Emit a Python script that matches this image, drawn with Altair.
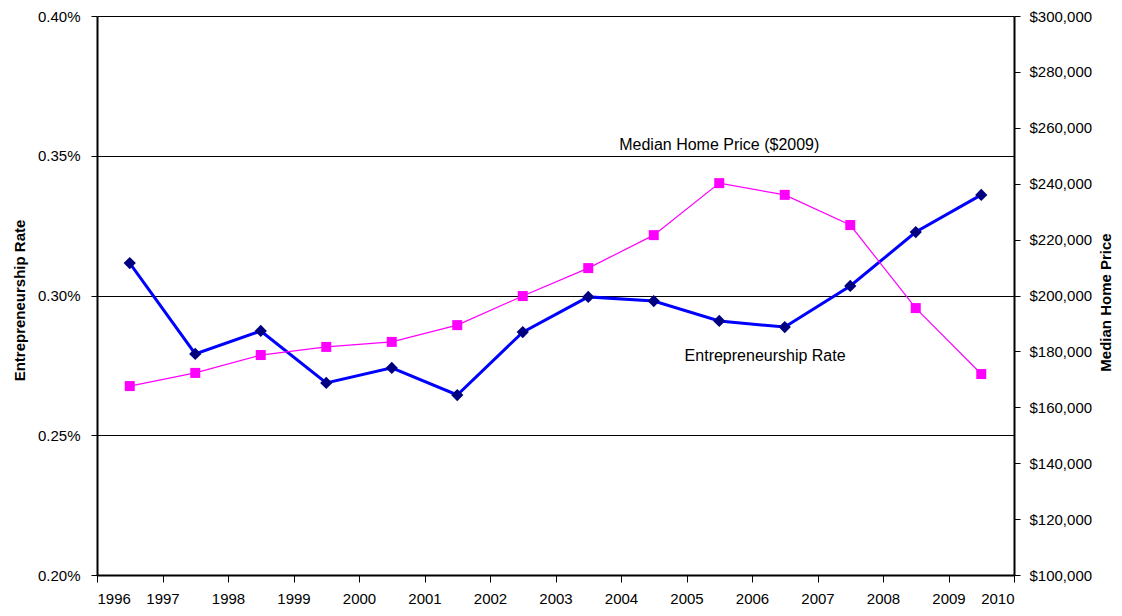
import altair as alt
import pandas as pd

# ---- data ----
years = list(range(1996, 2010))
rate_pct = [0.3116, 0.2791, 0.2873, 0.2687, 0.2741, 0.2644, 0.2869,
            0.2995, 0.2980, 0.2909, 0.2887, 0.3034, 0.3227, 0.3360]
price = [167600, 172300, 178700, 181600, 183400, 189400, 199800,
         209800, 221600, 240200, 236000, 225200, 195500, 171900]

label_text = ["Median Home Price ($2009)", "Entrepreneurship Rate"]
label_x = [2005.5, 2006.2]
label_y_pct = [0.3538, 0.2784]

left_ticks = [0.0020, 0.0025, 0.0030, 0.0035, 0.0040]
right_ticks = [100000, 120000, 140000, 160000, 180000, 200000,
               220000, 240000, 260000, 280000, 300000]
x_ticks = list(range(1996, 2011))

df = pd.DataFrame({"year": years, "rate": [r / 100 for r in rate_pct], "price": price})
lab = pd.DataFrame({"text": label_text, "lx": label_x, "ly": [v / 100 for v in label_y_pct]})

FONT = "Liberation Sans"
common = dict(labelFont=FONT, labelFontSize=15, labelColor="black",
              titleFont=FONT, titleFontSize=15, titleFontWeight="bold", titleColor="black",
              domainColor="black", tickColor="black", tickWidth=1)

x_enc = alt.X(
    "xpos:Q",
    scale=alt.Scale(domain=[1996, 2010], nice=False, zero=False),
    axis=alt.Axis(values=x_ticks, format="d", title=None, grid=False,
                  tickSize=7, labelPadding=9, domainWidth=2, **common),
)

base = alt.Chart(df).transform_calculate(xpos="datum.year + 0.5")

rate_line = base.mark_line(
    color="#0000FF", strokeWidth=3,
    point=alt.OverlayMarkDef(shape="diamond", size=150, color="#000080", filled=True, opacity=1),
).encode(
    x=x_enc,
    y=alt.Y("rate:Q",
            scale=alt.Scale(domain=[0.002, 0.004], nice=False, zero=False),
            axis=alt.Axis(values=left_ticks, format=".2%", title="Entrepreneurship Rate",
                          orient="left", grid=True, gridColor="black", gridWidth=1,
                          gridOpacity=1, tickSize=6, labelPadding=11, domainWidth=2,
                          titleX=-78, titleY=284, titleAngle=270,
                          titleAlign="center", titleBaseline="middle", **common)),
)

rate_text = alt.Chart(lab).mark_text(
    font=FONT, fontSize=16, color="black", align="center", baseline="middle"
).encode(
    x=alt.X("lx:Q", scale=alt.Scale(domain=[1996, 2010], nice=False, zero=False)),
    y=alt.Y("ly:Q", scale=alt.Scale(domain=[0.002, 0.004], nice=False, zero=False)),
    text="text:N",
)

price_line = base.mark_line(
    color="#FF00FF", strokeWidth=1.2,
    point=alt.OverlayMarkDef(shape="square", size=100, color="#FF00FF", filled=True, opacity=1),
).encode(
    x=x_enc,
    y=alt.Y("price:Q",
            scale=alt.Scale(domain=[100000, 300000], nice=False, zero=False),
            axis=alt.Axis(values=right_ticks, format="$,.0f", title="Median Home Price",
                          orient="right", grid=False, tickSize=6, labelPadding=9,
                          domainWidth=2, titleX=91, titleY=286, titleAngle=270,
                          titleAlign="center", titleBaseline="middle", **common)),
)

chart = alt.layer(
    alt.layer(rate_line, rate_text),
    price_line,
).resolve_scale(y="independent").properties(
    width=917, height=559,
    autosize=alt.AutoSizeParams(type="none"),
    padding={"left": 89, "top": 8, "right": 100, "bottom": 33},
).configure_view(
    stroke="black", strokeWidth=1
).configure(background="white")

chart.save("out.html", embed_options={"renderer": "svg", "actions": False})
